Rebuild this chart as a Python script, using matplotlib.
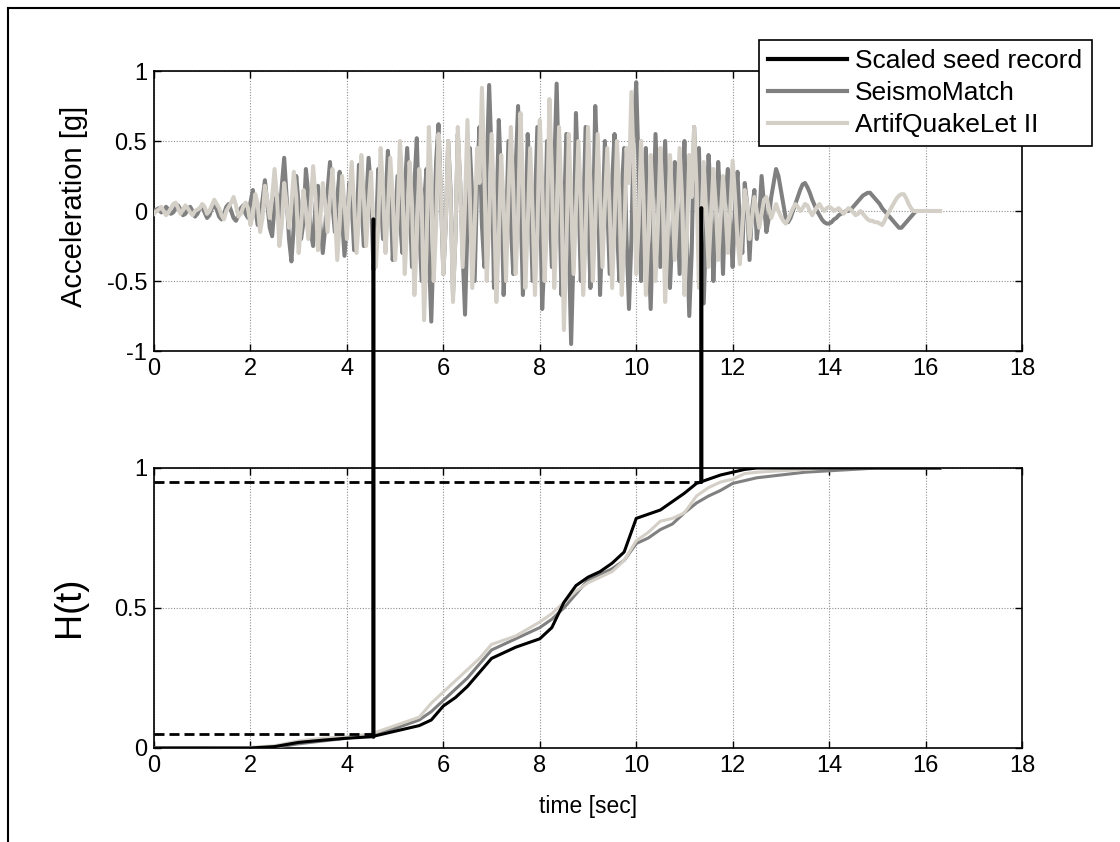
import matplotlib
matplotlib.use("Agg")
import matplotlib.pyplot as plt
from matplotlib.lines import Line2D
from matplotlib.patches import ConnectionPatch
import numpy as np

# ---------------- data ----------------
dt = 0.05  # sampling step of the acceleration records [s]
acc_seismomatch = [
    0.0, 0.01, 0.02, -0.01, 0.0, 0.03, 0.01, -0.02, -0.01, 0.02, 0.04, 0.01, -0.03, -0.02, 0.01, 0.03, 0.0, -0.04, -0.02, 0.02,
    0.03, -0.01, -0.05, -0.03, 0.02, 0.04, 0.01, -0.04, -0.06, -0.02, 0.03, 0.05, 0.0, -0.05, -0.07, -0.03, 0.02, 0.04, -0.02, -0.05,
    0.06, 0.15, 0.02, -0.1, -0.05, 0.08, 0.22, 0.05, -0.12, -0.18, 0.04, 0.12, -0.06, 0.18, 0.38, 0.1, -0.2, -0.36, -0.1, 0.25,
    0.05, -0.2, -0.08, 0.3, 0.12, -0.15, -0.25, 0.05, 0.18, -0.1, -0.3, -0.12, 0.15, 0.35, 0.05, -0.15, 0.1, 0.28, -0.05, -0.32,
    -0.1, 0.2, 0.05, -0.28, -0.15, 0.33, 0.1, -0.25, 0.05, 0.38, 0.15, -0.42, -0.2, 0.3, 0.1, -0.2, 0.05, 0.43, 0.2, -0.35,
    -0.1, 0.25, -0.05, -0.3, 0.15, 0.45, 0.1, -0.4, 0.2, 0.52, -0.1, -0.5, 0.05, 0.3, -0.3, -0.79, -0.2, 0.35, 0.62, 0.1,
    -0.45, -0.1, 0.5, 0.15, -0.6, -0.2, 0.55, 0.2, -0.3, -0.74, -0.1, 0.45, 0.1, -0.5, 0.2, 0.6, -0.1, -0.4, 0.3, 0.9,
    0.4, -0.55, -0.1, 0.65, 0.2, -0.6, -0.2, 0.5, -0.1, -0.45, 0.3, 0.75, 0.1, -0.6, -0.2, 0.55, 0.15, -0.5, 0.05, 0.6,
    0.2, -0.7, -0.3, 0.5, 0.1, -0.4, 0.3, 0.91, 0.2, -0.6, -0.1, 0.55, -0.2, -0.95, -0.3, 0.7, 0.2, -0.5, -0.1, 0.6,
    0.1, -0.55, -0.2, 0.75, 0.3, -0.6, -0.1, 0.5, 0.05, -0.45, 0.2, 0.55, -0.1, -0.5, 0.15, 0.45, -0.2, -0.7, -0.2, 0.6,
    0.92, 0.3, -0.5, 0.1, 0.45, -0.2, -0.7, -0.1, 0.55, 0.1, -0.4, 0.2, 0.5, -0.1, -0.55, -0.15, 0.35, 0.05, -0.45, 0.1,
    0.5, -0.2, -0.75, -0.3, 0.6, 0.2, 0.45, -0.2, -0.66, -0.1, 0.4, 0.1, -0.5, -0.1, 0.35, 0.05, -0.45, 0.1, 0.3, -0.1,
    -0.4, 0.05, 0.28, -0.1, -0.3, 0.2, 0.05, -0.35, 0.0, 0.15, -0.2, -0.05, 0.25, 0.05, -0.15, -0.05, 0.1, 0.2, 0.3, 0.25,
    0.15, 0.05, -0.05, -0.08, -0.05, 0.0, 0.05, 0.1, 0.15, 0.19, 0.2, 0.17, 0.13, 0.08, 0.04, 0.0, -0.03, -0.06, -0.08, -0.09,
    -0.09, -0.08, -0.06, -0.05, -0.03, -0.02, -0.01, 0.0, 0.0, 0.01, 0.03, 0.05, 0.07, 0.09, 0.11, 0.12, 0.13, 0.13, 0.11, 0.09,
    0.07, 0.05, 0.02, 0.0, -0.02, -0.04, -0.06, -0.08, -0.1, -0.12, -0.12, -0.1, -0.08, -0.06, -0.04, -0.02, 0.0, 0.0, 0.0, 0.0,
    0.0, 0.0, 0.0, 0.0, 0.0, 0.0, 0.0,
]
acc_artifquakelet = [
    -0.02, 0.0, 0.01, 0.03, 0.0, -0.03, -0.01, 0.02, 0.05, 0.06, 0.02, -0.02, 0.01, 0.04, 0.02, -0.01, -0.03, 0.0, 0.01, 0.02,
    0.05, 0.03, -0.02, 0.0, 0.04, 0.08, 0.05, 0.02, -0.03, -0.06, 0.0, 0.03, 0.06, 0.1, 0.04, -0.04, -0.02, 0.03, 0.06, 0.02,
    -0.1, -0.03, 0.12, 0.05, -0.15, -0.05, 0.18, 0.08, -0.05, 0.1, 0.3, 0.1, -0.25, -0.1, 0.2, 0.05, -0.12, 0.05, 0.28, 0.1,
    -0.3, -0.1, 0.15, 0.0, -0.2, 0.05, 0.32, 0.1, -0.28, -0.05, 0.2, 0.05, -0.15, 0.1, 0.3, 0.0, -0.35, -0.1, 0.25, 0.05,
    -0.2, 0.1, 0.35, 0.05, -0.3, -0.05, 0.4, 0.1, -0.25, 0.05, 0.28, -0.1, -0.4, -0.1, 0.45, 0.15, -0.3, 0.0, 0.38, 0.1,
    -0.35, -0.05, 0.5, 0.2, -0.45, -0.1, 0.35, 0.05, -0.6, -0.2, 0.3, 0.1, -0.78, -0.3, 0.6, 0.2, -0.5, -0.1, 0.55, 0.15,
    -0.45, -0.1, 0.5, 0.1, -0.65, -0.2, 0.6, 0.2, -0.4, 0.05, 0.65, 0.1, -0.55, -0.1, 0.45, 0.2, 0.88, 0.3, -0.5, -0.1,
    0.55, 0.1, -0.65, -0.2, 0.4, 0.05, -0.5, 0.1, 0.6, 0.15, -0.45, -0.05, 0.7, 0.2, -0.55, -0.1, 0.45, 0.0, -0.6, -0.15,
    0.65, 0.2, -0.5, -0.1, 0.8, 0.3, -0.55, -0.1, 0.6, 0.1, -0.85, -0.3, 0.55, 0.1, -0.45, 0.0, 0.5, 0.1, -0.6, -0.2,
    0.6, 0.2, -0.5, -0.1, 0.55, 0.1, -0.4, 0.05, 0.45, 0.0, -0.55, -0.1, 0.5, 0.1, -0.6, -0.2, 0.45, 0.2, 0.85, 0.3,
    -0.45, -0.1, 0.5, 0.1, -0.6, -0.2, 0.4, 0.05, -0.5, -0.1, 0.45, 0.1, -0.65, -0.2, 0.4, 0.05, -0.35, 0.0, 0.45, 0.1,
    -0.6, -0.2, 0.4, 0.1, 0.6, 0.2, -0.55, -0.1, 0.35, 0.0, -0.4, -0.05, 0.3, 0.05, -0.35, -0.05, 0.25, 0.0, -0.3, 0.0,
    0.36, 0.1, -0.2, -0.38, -0.1, 0.15, 0.05, -0.2, -0.05, 0.1, 0.0, -0.12, -0.02, 0.08, 0.1, 0.02, -0.05, 0.0, 0.05, 0.0,
    -0.04, -0.07, -0.09, -0.06, -0.02, 0.02, 0.05, 0.03, 0.0, 0.02, 0.05, 0.04, 0.0, -0.03, 0.0, 0.03, 0.05, 0.02, 0.0, 0.02,
    0.03, 0.02, 0.0, 0.01, 0.02, 0.0, -0.02, 0.0, 0.02, 0.01, -0.01, -0.03, -0.02, 0.0, -0.02, -0.04, -0.06, -0.07, -0.07, -0.08,
    -0.08, -0.09, -0.1, -0.07, -0.03, 0.0, 0.03, 0.06, 0.09, 0.11, 0.12, 0.12, 0.09, 0.05, 0.02, 0.0, 0.0, 0.0, 0.0, 0.0,
    0.0, 0.0, 0.0, 0.0, 0.0, 0.0, 0.0,
]

t_husid = [0, 1, 2, 2.5, 3, 3.5, 4, 4.5, 5, 5.5, 5.75, 6, 6.25, 6.5, 6.75, 7,
           7.5, 8, 8.25, 8.5, 8.75, 9, 9.25, 9.5, 9.75, 10, 10.25, 10.5, 10.75,
           11, 11.25, 11.5, 11.75, 12, 12.25, 12.5, 13, 13.5, 14, 14.5, 15, 16.3]
h_seed = [0, 0, 0, 0.005, 0.02, 0.028, 0.035, 0.04, 0.06, 0.08, 0.1, 0.15, 0.18,
          0.22, 0.27, 0.32, 0.36, 0.39, 0.43, 0.52, 0.58, 0.61, 0.63, 0.66, 0.70,
          0.82, 0.835, 0.85, 0.88, 0.91, 0.945, 0.96, 0.975, 0.985, 0.995, 1.0,
          1, 1, 1, 1, 1, 1]
h_seismomatch = [0, 0, 0, 0.002, 0.015, 0.025, 0.035, 0.045, 0.07, 0.1, 0.13, 0.17,
                 0.21, 0.25, 0.3, 0.35, 0.39, 0.43, 0.46, 0.5, 0.55, 0.6, 0.62,
                 0.64, 0.67, 0.73, 0.75, 0.78, 0.8, 0.84, 0.875, 0.9, 0.92, 0.945,
                 0.955, 0.965, 0.975, 0.985, 0.99, 0.995, 1.0, 1.0]
h_artif = [0, 0, 0.002, 0.008, 0.025, 0.035, 0.04, 0.05, 0.08, 0.11, 0.16, 0.2,
           0.24, 0.28, 0.32, 0.37, 0.4, 0.45, 0.48, 0.52, 0.56, 0.59, 0.61, 0.63,
           0.67, 0.74, 0.77, 0.81, 0.82, 0.84, 0.9, 0.93, 0.95, 0.96, 0.98, 0.985,
           0.99, 0.995, 1.0, 1.0, 1.0, 1.0]

t_start = 4.55   # time of 5% Arias intensity
t_end = 11.35    # time of 95% Arias intensity
h_low, h_high = 0.05, 0.95

series_labels = ["Scaled seed record", "SeismoMatch", "ArtifQuakeLet II"]
x_ticks = [0, 2, 4, 6, 8, 10, 12, 14, 16, 18]
y1_ticks = [-1, -0.5, 0, 0.5, 1]
y1_ticklabels = ["-1", "-0.5", "0", "0.5", "1"]
y2_ticks = [0, 0.5, 1]
y2_ticklabels = ["0", "0.5", "1"]

# ---------------- style ----------------
C_BLACK = "#000000"
C_DARK = "#808080"
C_LIGHT = "#d4d0c8"
plt.rcParams["font.family"] = ["Liberation Sans", "DejaVu Sans"]

W, H = 1120, 842
fig = plt.figure(figsize=(W / 100, H / 100), dpi=100)
fig.patch.set_facecolor("white")

def px_rect(left, top, right, bottom):
    return [left / W, 1 - bottom / H, (right - left) / W, (bottom - top) / H]

ax1 = fig.add_axes(px_rect(154, 71, 1022, 351))
ax2 = fig.add_axes(px_rect(154, 468, 1022, 748))

t_acc1 = np.arange(len(acc_seismomatch)) * dt
t_acc2 = np.arange(len(acc_artifquakelet)) * dt

ax1.plot(t_acc1, acc_seismomatch, color=C_DARK, lw=2.9, zorder=3,
         solid_joinstyle="round")
ax1.plot(t_acc2, acc_artifquakelet, color=C_LIGHT, lw=2.9, zorder=4,
         solid_joinstyle="round")

ax2.plot(t_husid, h_seed, color=C_BLACK, lw=2.2, zorder=5)
ax2.plot(t_husid, h_seismomatch, color=C_DARK, lw=2.2, zorder=3)
ax2.plot(t_husid, h_artif, color=C_LIGHT, lw=2.2, zorder=4)

dash = (0, (3.6, 1.8))
ax2.plot([0, t_start], [h_low, h_low], color=C_BLACK, lw=2.0, linestyle=dash, zorder=6)
ax2.plot([0, t_end], [h_high, h_high], color=C_BLACK, lw=2.0, linestyle=dash, zorder=6)

for ax in (ax1, ax2):
    ax.set_xlim(0, 18)
    ax.set_xticks(x_ticks)
    ax.set_xticklabels([str(v) for v in x_ticks])
    ax.grid(True, color="#909090", linestyle=(0, (1, 1.5)), lw=0.8)
    ax.set_axisbelow(True)
    ax.tick_params(direction="in", top=True, right=True, length=5, width=1.0,
                   labelsize=17, pad=5)
    for s in ax.spines.values():
        s.set_linewidth(1.2)

ax1.set_ylim(-1, 1)
ax1.set_yticks(y1_ticks)
ax1.set_yticklabels(y1_ticklabels)
ax2.set_ylim(0, 1)
ax2.set_yticks(y2_ticks)
ax2.set_yticklabels(y2_ticklabels)

# vertical connecting lines between the two subplots
for tx, ya, yb in [(t_start, -0.06, 0.04), (t_end, 0.02, h_high)]:
    con = ConnectionPatch(xyA=(tx, ya), coordsA=ax1.transData,
                          xyB=(tx, yb), coordsB=ax2.transData,
                          color=C_BLACK, lw=3.0, zorder=10)
    fig.add_artist(con)

# axis labels
fig.text(74 / W, 1 - 206 / H, "Acceleration [g]", rotation=90, ha="center",
         va="center", fontsize=21,
         family=["Liberation Sans Narrow", "Liberation Sans", "DejaVu Sans"])
fig.text(70 / W, 1 - 607 / H, "H(t)", rotation=90, ha="center", va="center",
         fontsize=26)
fig.text(588 / W, 1 - 806 / H, "time [sec]", ha="center", va="center",
         fontsize=16.5)

# legend
handles = [Line2D([], [], color=C_BLACK, lw=3),
           Line2D([], [], color=C_DARK, lw=3),
           Line2D([], [], color=C_LIGHT, lw=3)]
leg = fig.legend(handles, series_labels, loc="upper left",
                 bbox_to_anchor=(759 / W, 1 - 40 / H),
                 bbox_transform=fig.transFigure,
                 fontsize=19, frameon=True, fancybox=False,
                 edgecolor="black", framealpha=1, borderpad=0.35,
                 handlelength=3.0, handletextpad=0.3, labelspacing=0.3,
                 borderaxespad=0)
leg.get_frame().set_linewidth(1.2)
leg.set_zorder(20)

# figure border (left and top edges)
fig.add_artist(Line2D([8 / W, 8 / W], [0, 1 - 8 / H], transform=fig.transFigure,
                      color="black", lw=1.5))
fig.add_artist(Line2D([8 / W, 1], [1 - 8 / H, 1 - 8 / H], transform=fig.transFigure,
                      color="black", lw=1.5))

fig.savefig("out.png", dpi=100, facecolor="white")
